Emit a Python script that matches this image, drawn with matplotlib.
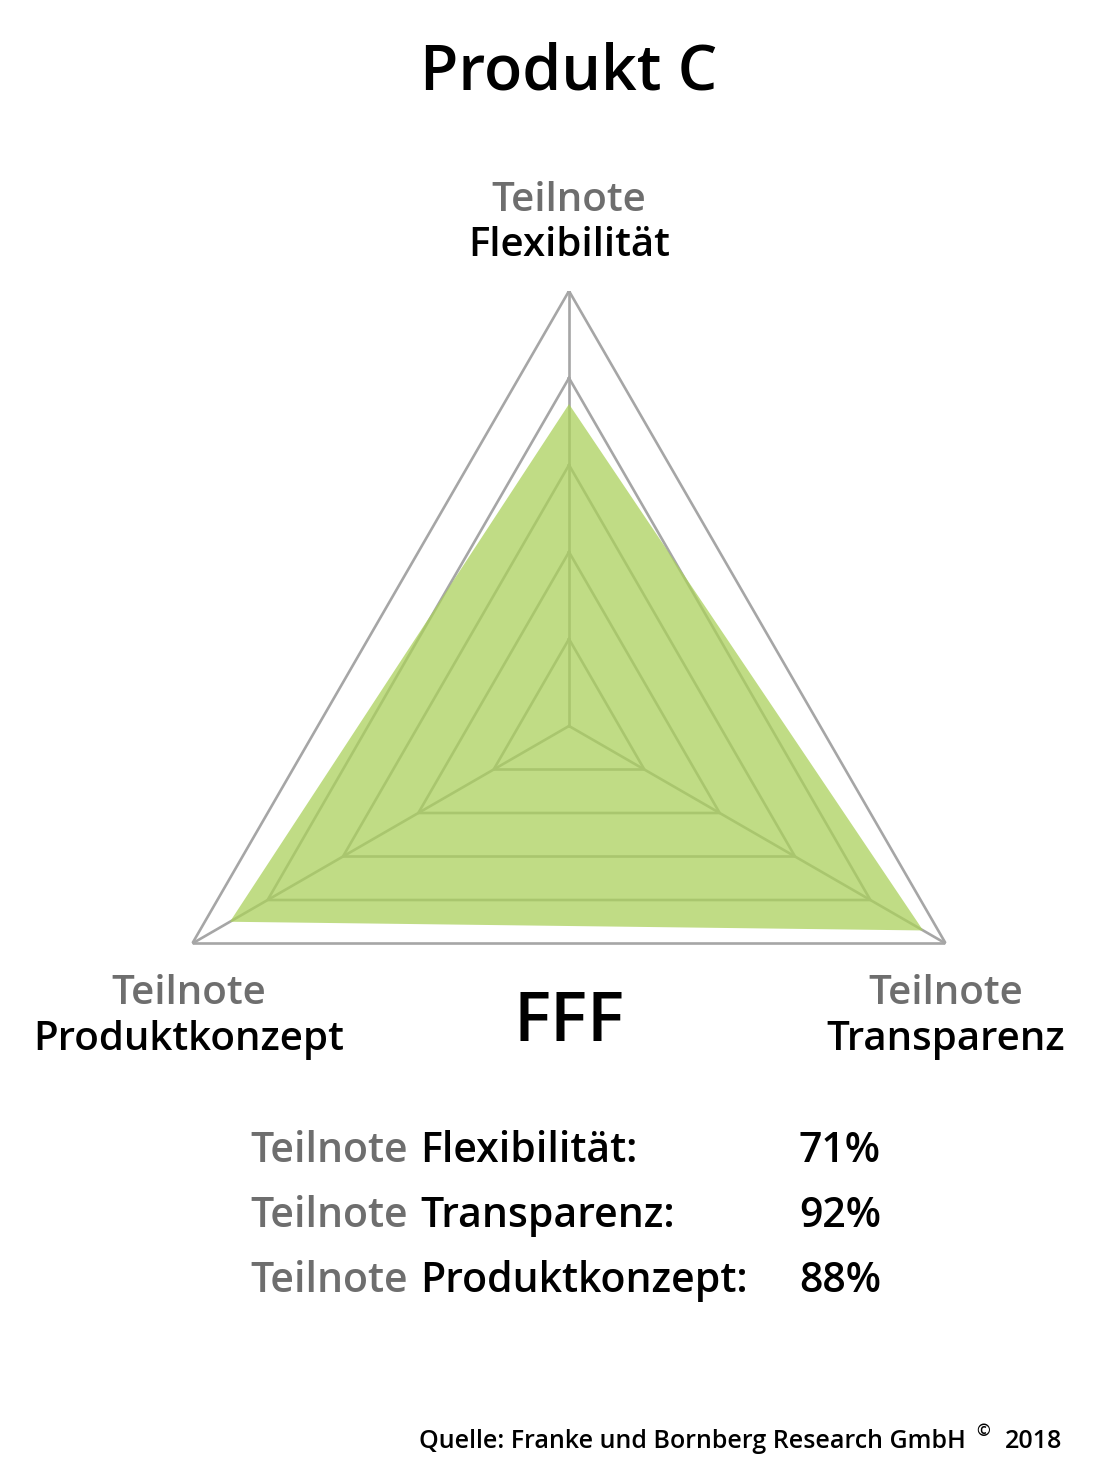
import numpy as np
import matplotlib
matplotlib.use("Agg")
import matplotlib.pyplot as plt

plt.rcParams['font.family'] = ['Open Sans', 'DejaVu Sans']
plt.rcParams['font.weight'] = 'semibold'

# data
categories = ["Flexibilität", "Transparenz", "Produktkonzept"]
shown_pct = [71, 92, 88]          # numbers printed in the table
plotted = [74, 94, 90]            # where the green corners sit on the grid
levels = [20, 40, 60, 80, 100]
title = "Produkt C"
rating = "FFF"
source = "Quelle: Franke und Bornberg Research GmbH"
source_year = "2018"

W, H = 1100, 1470
fig = plt.figure(figsize=(W / 100, H / 100), dpi=100)
fig.patch.set_facecolor("white")

def px(x, y):
    return x / W, 1 - y / H

cx, cy, R = 569, 726, 435
ax = fig.add_axes([(cx - R) / W, (H - cy - R) / H, 2 * R / W, 2 * R / H],
                  projection="polar")
ax.set_theta_zero_location("N")
ax.set_theta_direction(-1)
ax.set_ylim(0, 100)
ax.axis("off")

angles = np.linspace(0, 2 * np.pi, len(categories), endpoint=False)
closed = np.append(angles, angles[0])

grey = "#a6a6a6"
for lev in levels:
    ax.plot(closed, [lev] * len(closed), color=grey, lw=1.9, zorder=1)
for a in angles:
    ax.plot([a, a], [0, levels[-1]], color=grey, lw=1.9, zorder=1)

ax.fill(closed, plotted + plotted[:1], color="#abd15c", alpha=0.75, lw=0, zorder=2)

# title
fig.text(*px(569, 90), title, ha="center", va="baseline", fontsize=45, color="black")

# axis labels
lab_pos = [(569, 211, 256), (946, 1004, 1050), (189, 1004, 1050)]
for cat, (x, y1, y2) in zip(categories, lab_pos):
    fig.text(*px(x, y1), "Teilnote", ha="center", va="baseline", fontsize=29, color="#6e6e6e")
    fig.text(*px(x, y2), cat, ha="center", va="baseline", fontsize=29, color="black")

fig.text(*px(569, 1041), rating, ha="center", va="baseline", fontsize=50, color="black")

# table
rows_y = [1162, 1227, 1292]
for i, y in enumerate(rows_y):
    fig.text(*px(250, y), "Teilnote", ha="left", va="baseline", fontsize=29.5, color="#6e6e6e")
    fig.text(*px(420, y), categories[i] + ":", ha="left", va="baseline", fontsize=29.5, color="black")
    fig.text(*px(799, y), f"{shown_pct[i]}%", ha="left", va="baseline", fontsize=29.5, color="black")

fig.text(*px(1062, 1448), source_year, ha="right", va="baseline", fontsize=18, color="black")
fig.text(*px(983, 1436), "\u00a9", ha="center", va="baseline", fontsize=12, color="black")
fig.text(*px(966, 1448), source, ha="right", va="baseline", fontsize=18, color="black")

fig.savefig("out.png", dpi=100, facecolor="white")
